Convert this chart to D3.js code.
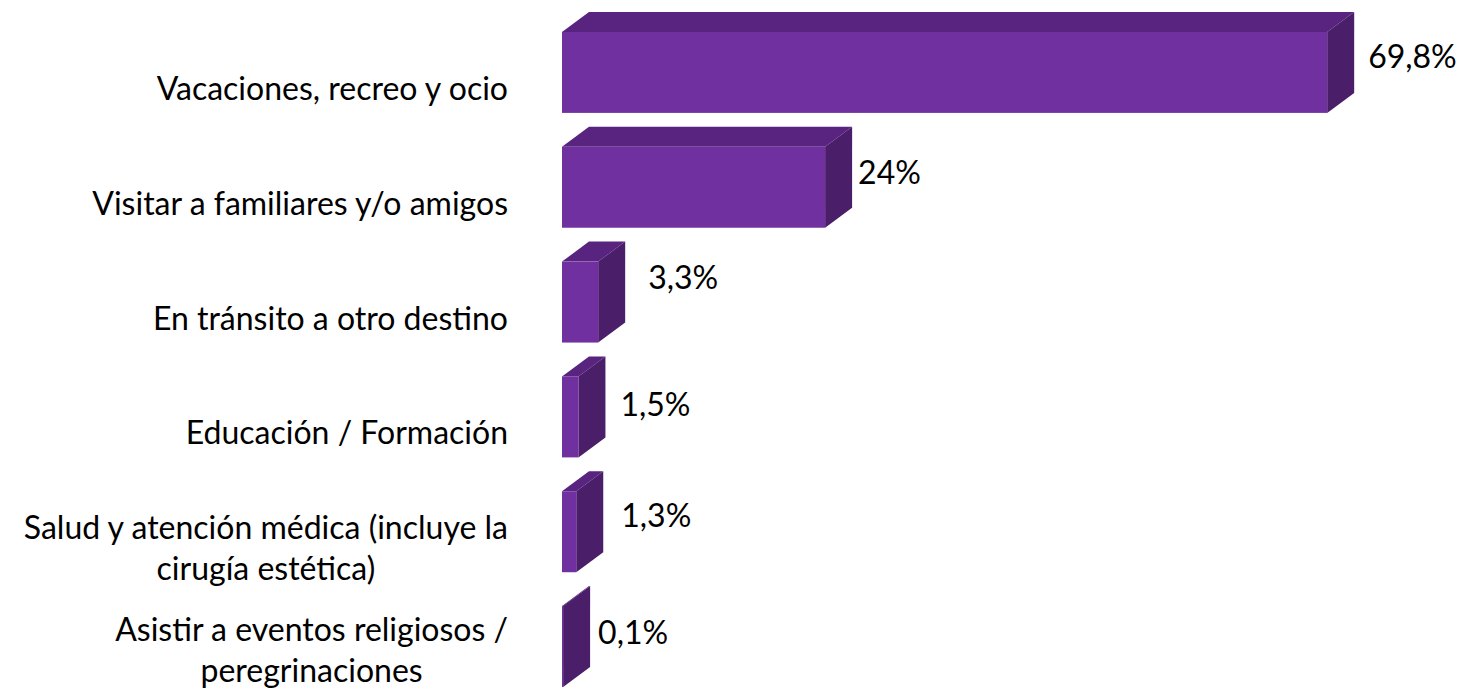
<!DOCTYPE html>
<html>
<head>
<meta charset="utf-8">
<script src="https://cdn.jsdelivr.net/npm/d3@7"></script>
<style>
  html, body { margin: 0; padding: 0; background: #fff; }
  svg { display: block; }
  text { font-family: Lato, "Open Sans", sans-serif; fill: #000; }
</style>
</head>
<body>
<div id="chart"></div>
<script>
// motivos de viaje, en porcentaje
const categories = [
    ["Vacaciones, recreo y ocio"],
    ["Visitar a familiares y/o amigos"],
    ["En tránsito a otro destino"],
    ["Educación / Formación"],
    ["Salud y atención médica (incluye la", "cirugía estética)"],
    ["Asistir a eventos religiosos /", "peregrinaciones"]
];
const values = [69.8, 24, 3.3, 1.5, 1.3, 0.1];
const valueLabels = ["69,8%", "24%", "3,3%", "1,5%", "1,3%", "0,1%"];

// petits décalages des étiquettes (comme dans l'original)
const labelNudge = [[0, 0], [-8, 1], [9, -9], [1, 4], [4, 0], [-6, 2]];

const width = 1460, height = 699;
const depthX = 27, depthY = -20;
const fontSize = 32;

const svg = d3.select("#chart").append("svg")
    .attr("width", width)
    .attr("height", height);

const x = d3.scaleLinear()
    .domain([0, 80])
    .range([562, 1439]);

const y = d3.scaleBand()
    .domain(d3.range(values.length))
    .range([15, 704])
    .paddingInner(0.295)
    .paddingOuter(0.1475);

const bars = svg.selectAll(".bar")
    .data(values)
    .join("g")
    .attr("class", "bar");

// dessus
bars.append("path")
    .attr("fill", "#58247f")
    .attr("d", (d, i) => {
        const x0 = x(0), x1 = x(d), y0 = y(i);
        return `M${x0},${y0}L${x0 + depthX},${y0 + depthY}L${x1 + depthX},${y0 + depthY}L${x1},${y0}Z`;
    });

// côté droit
bars.append("path")
    .attr("fill", "#4b1e6a")
    .attr("d", (d, i) => {
        const x1 = x(d), y0 = y(i), y1 = y(i) + y.bandwidth();
        return `M${x1},${y0}L${x1 + depthX},${y0 + depthY}L${x1 + depthX},${y1 + depthY}L${x1},${y1}Z`;
    });

// face avant
bars.append("rect")
    .attr("fill", "#7030a0")
    .attr("x", x(0))
    .attr("y", (d, i) => y(i))
    .attr("width", d => x(d) - x(0))
    .attr("height", y.bandwidth());

// étiquettes de valeurs
svg.selectAll(".value-label")
    .data(values)
    .join("text")
    .attr("class", "value-label")
    .attr("font-size", fontSize)
    .attr("x", (d, i) => x(d) + depthX + 14 + labelNudge[i][0])
    .attr("y", (d, i) => y(i) + 36 + labelNudge[i][1])
    .text((d, i) => valueLabels[i]);

// étiquettes des catégories
const lineHeight = 41;
const labelRight = 508;
categories.forEach((lines, i) => {
    const g = svg.append("g").attr("class", "cat-label");
    const n = lines.length;
    let base = y(i) + 68 - (n - 1) * lineHeight / 2;
    const last = base + (n - 1) * lineHeight;
    if (last > height - 17) base -= last - (height - 17);
    const texts = g.selectAll("text")
        .data(lines)
        .join("text")
        .attr("font-size", fontSize)
        .attr("y", (d, j) => base + j * lineHeight)
        .text(d => d);
    const maxW = d3.max(texts.nodes(), t => t.getComputedTextLength());
    texts.attr("text-anchor", "middle").attr("x", labelRight - maxW / 2);
});
</script>
</body>
</html>
